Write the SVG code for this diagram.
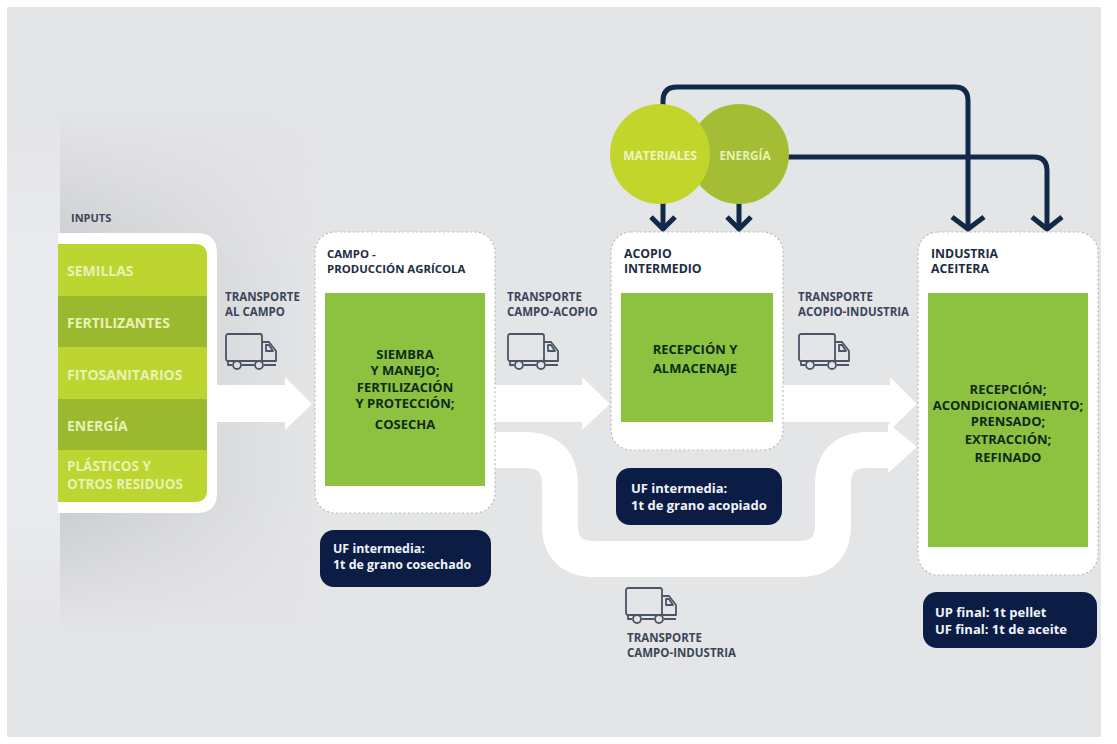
<svg xmlns="http://www.w3.org/2000/svg" width="1117" height="744" viewBox="0 0 1117 744">
<style>
text{font-family:"Open Sans","Liberation Sans",sans-serif;font-weight:700}
.lab{font-size:11.5px;fill:#3a4658}
.head{font-size:12.3px;fill:#1d2c44}
.in{font-size:14px;fill:#e8f2b4}
.c{font-size:13px;fill:#0f2a1a;text-anchor:middle}
.uf{font-size:13px;fill:#f2f4f8}
.card{fill:#fff;stroke:#b9bdb9;stroke-width:1.2;stroke-dasharray:2 2.5}
.green{fill:#8cc23f}
.dark{fill:#0b1d45}
.link{fill:none;stroke:#12294a;stroke-width:5;stroke-linejoin:round}
.flow{fill:#fff}
.truck{fill:none;stroke:#4a5566;stroke-width:1.8;stroke-linejoin:round}
</style>
<defs>
<linearGradient id="sh" x1="0" x2="1" y1="0" y2="0"><stop offset="0" stop-color="#c9cbce"/><stop offset="1" stop-color="#e4e5e7"/></linearGradient>
<linearGradient id="fade" x1="0" x2="0" y1="0" y2="1"><stop offset="0" stop-color="#fff" stop-opacity="0"/><stop offset=".3" stop-color="#fff"/><stop offset=".75" stop-color="#fff"/><stop offset="1" stop-color="#fff" stop-opacity="0"/></linearGradient>
<mask id="m"><rect x="7" y="110" width="313" height="520" fill="url(#fade)"/></mask>
<g id="truckI" class="truck">
<rect x="1" y="1" width="36" height="27" rx="2"/>
<path d="M37 9H44L51 18V28H37"/>
<path d="M41 12H44L48 18H41Z"/>
<path d="M3 28V32H7M17 32H29M39 32H51"/>
<circle cx="12" cy="32" r="4"/><circle cx="34" cy="32" r="4"/>
</g>
</defs>
<rect width="1117" height="744" fill="#fff"/>
<rect x="7" y="7" width="1094" height="730" fill="#e4e5e7"/>
<g mask="url(#m)">
<rect x="60" y="110" width="260" height="520" fill="url(#sh)"/>
<rect x="7" y="110" width="53" height="520" fill="#e9ebee"/>
</g>

<g id="connectors">
<path class="flow" d="M217 385H285V377L312 404L285 430V422H217Z"/>
<path class="flow" d="M495 385H582V377L610 404L582 430V422H495Z"/>
<path class="flow" d="M783 385H890V377L917 404L890 430V422H783Z"/>
<path d="M490 450H525Q560 450 560 485V525Q560 559 595 559H798Q833 559 833 525V485Q833 450 868 450H892" fill="none" stroke="#fff" stroke-width="36"/>
<path class="flow" d="M888 423L917 447L888 473Z"/>
<path class="link" d="M663 106V101Q663 87 677 87H955Q968 87 968 101V228"/>
<path class="link" d="M788 157H1034Q1047 157 1047 171V228"/>
<path class="link" d="M663 202V228"/>
<path class="link" d="M739 202V228"/>
<path class="link" d="M952 217L968 229L984 217"/>
<path class="link" d="M1032 217L1047 229L1062 217"/>
<path class="link" d="M651 217L663 229L675 217"/>
<path class="link" d="M727 217L739 229L751 217"/>
</g>

<g id="inputs">
<path d="M58 233H197Q217 233 217 253V493Q217 513 197 513H58Z" fill="#fff"/>
<path d="M58 244H195Q207 244 207 256V296H58Z" fill="#bcd530"/>
<rect x="58" y="296" width="149" height="51" fill="#9bb92f"/>
<rect x="58" y="347" width="149" height="52" fill="#bcd530"/>
<rect x="58" y="399" width="149" height="51" fill="#9bb92f"/>
<path d="M58 450H207V490Q207 502 195 502H58Z" fill="#bcd530"/>
<text class="lab" x="71" y="222" style="font-size:11px">INPUTS</text>
<text class="in" x="67" y="276">SEMILLAS</text>
<text class="in" x="67" y="328">FERTILIZANTES</text>
<text class="in" x="67" y="380">FITOSANITARIOS</text>
<text class="in" x="67" y="431">ENERGÍA</text>
<text class="in" x="67" y="471" style="font-size:13.5px">PLÁSTICOS Y</text>
<text class="in" x="67" y="489" style="font-size:13.5px">OTROS RESIDUOS</text>
</g>

<g id="campo">
<rect class="card" x="315" y="232" width="180" height="281" rx="20"/>
<rect class="green" x="325" y="293" width="160" height="193"/>
<text class="head" x="327" y="258" style="font-size:11.4px">CAMPO -</text>
<text class="head" x="327" y="273" style="font-size:11.4px">PRODUCCIÓN AGRÍCOLA</text>
<text class="c" x="405" y="359">SIEMBRA</text>
<text class="c" x="405" y="375">Y MANEJO;</text>
<text class="c" x="405" y="392">FERTILIZACIÓN</text>
<text class="c" x="405" y="408">Y PROTECCIÓN;</text>
<text class="c" x="405" y="429">COSECHA</text>
</g>

<g id="acopio">
<rect class="card" x="611" y="232" width="172" height="218" rx="20"/>
<rect class="green" x="621" y="293" width="152" height="129"/>
<text class="head" x="624" y="258">ACOPIO</text>
<text class="head" x="624" y="273">INTERMEDIO</text>
<text class="c" x="695" y="354">RECEPCIÓN Y</text>
<text class="c" x="695" y="373">ALMACENAJE</text>
</g>

<g id="industria">
<rect class="card" x="918" y="232" width="180" height="343" rx="20"/>
<rect class="green" x="928" y="293" width="160" height="254"/>
<text class="head" x="931" y="258">INDUSTRIA</text>
<text class="head" x="931" y="273">ACEITERA</text>
<text class="c" x="1008" y="394">RECEPCIÓN;</text>
<text class="c" x="1008" y="410">ACONDICIONAMIENTO;</text>
<text class="c" x="1008" y="426">PRENSADO;</text>
<text class="c" x="1008" y="444">EXTRACCIÓN;</text>
<text class="c" x="1008" y="462">REFINADO</text>
</g>

<g id="energia-node">
<circle cx="739" cy="154" r="50" fill="#a4bd35"/>
<text x="745" y="160" text-anchor="middle" style="font-size:11.8px;fill:#e8f2b4">ENERGÍA</text>
</g>
<g id="materiales-node">
<circle cx="660" cy="154" r="50" fill="#c2d52a"/>
<text x="660" y="160" text-anchor="middle" style="font-size:12px;fill:#eef6c0">MATERIALES</text>
</g>

<g id="uf-campo">
<rect class="dark" x="320" y="530" width="171" height="57" rx="14"/>
<text class="uf" x="333" y="553" style="font-size:12.4px">UF intermedia:</text>
<text class="uf" x="333" y="569" style="font-size:12.4px">1t de grano cosechado</text>
</g>
<g id="uf-acopio">
<rect class="dark" x="616" y="468" width="166" height="57" rx="14"/>
<text class="uf" x="631" y="493">UF intermedia:</text>
<text class="uf" x="631" y="510">1t de grano acopiado</text>
</g>
<g id="uf-industria">
<rect class="dark" x="923" y="592" width="174" height="56" rx="14"/>
<text class="uf" x="935" y="617">UP final: 1t pellet</text>
<text class="uf" x="935" y="634">UF final: 1t de aceite</text>
</g>

<g id="transporte-campo">
<text class="lab" x="225" y="301">TRANSPORTE</text>
<text class="lab" x="225" y="316">AL CAMPO</text>
<use href="#truckI" x="225" y="333"/>
</g>
<g id="transporte-acopio">
<text class="lab" x="507" y="301">TRANSPORTE</text>
<text class="lab" x="507" y="316">CAMPO-ACOPIO</text>
<use href="#truckI" x="507" y="333"/>
</g>
<g id="transporte-industria">
<text class="lab" x="798" y="301">TRANSPORTE</text>
<text class="lab" x="798" y="316">ACOPIO-INDUSTRIA</text>
<use href="#truckI" x="798" y="333"/>
</g>
<g id="transporte-campo-industria">
<use href="#truckI" x="625" y="587"/>
<text class="lab" x="627" y="642">TRANSPORTE</text>
<text class="lab" x="627" y="657">CAMPO-INDUSTRIA</text>
</g>
</svg>
